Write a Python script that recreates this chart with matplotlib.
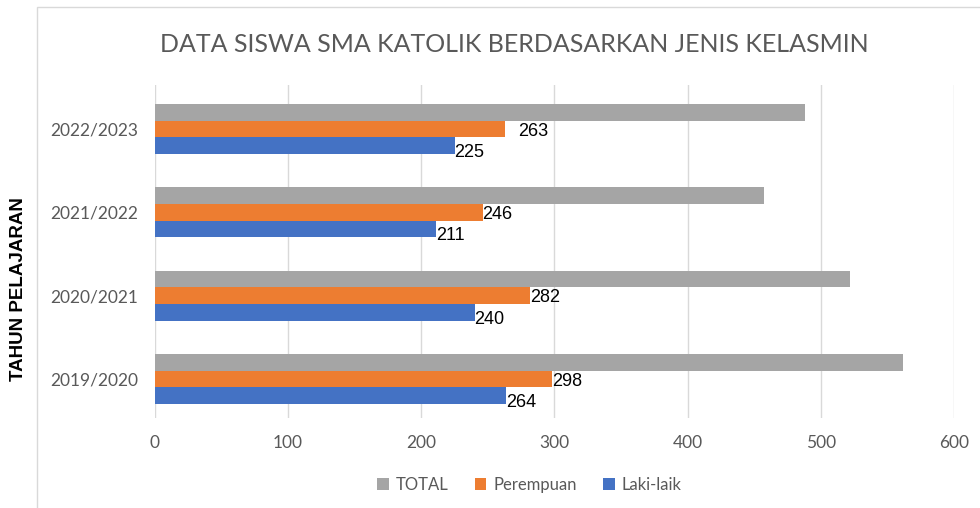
import numpy as np
import matplotlib
matplotlib.use("Agg")
import matplotlib.pyplot as plt
from matplotlib.patches import Rectangle

# data
years = ["2019/2020", "2020/2021", "2021/2022", "2022/2023"]
laki = [264, 240, 211, 225]
perempuan = [298, 282, 246, 263]
total = [562, 522, 457, 488]

c_total = "#A5A5A5"
c_perem = "#ED7D31"
c_laki = "#4472C4"
txt = "#595959"

fig = plt.figure(figsize=(9.8, 5.08), dpi=100)
ax = fig.add_axes([0.158, 0.177, 0.8155, 0.656])

y = np.arange(len(years))
h = 0.2
b_laki = ax.barh(y - h, laki, height=h, color=c_laki, label="Laki-laik")
b_perem = ax.barh(y, perempuan, height=h, color=c_perem, label="Perempuan")
b_total = ax.barh(y + h, total, height=h, color=c_total, label="TOTAL")

lab_font = ["Liberation Sans Narrow", "Liberation Sans", "DejaVu Sans"]
for i, v in enumerate(perempuan):
    dx = 9 if v == 263 else 0
    ax.annotate(str(v), (v, y[i]), xytext=(dx, -1.5), textcoords="offset points",
                va="center", ha="left", fontsize=13, family=lab_font, color="black")
for i, v in enumerate(laki):
    ax.annotate(str(v), (v, y[i] - h), xytext=(0, -5), textcoords="offset points",
                va="center", ha="left", fontsize=13, family=lab_font, color="black")

ax.set_xlim(0, 600)
ax.set_ylim(-0.47, 3.53)
ax.set_xticks(range(0, 601, 100))
ax.set_yticks(y)
ax.set_yticklabels(years)
ax.grid(axis="x", color="#d9d9d9", linewidth=1)
ax.set_axisbelow(True)
for s in ax.spines.values():
    s.set_visible(False)
ax.tick_params(length=0, labelsize=12.5, labelcolor=txt, pad=12)
for t in ax.get_xticklabels() + ax.get_yticklabels():
    t.set_family(["Lato", "DejaVu Sans"])

fig.text(0.525, 0.912, "DATA SISWA SMA KATOLIK BERDASARKAN JENIS KELASMIN",
         ha="center", va="center", fontsize=18, color=txt, family=["Lato", "DejaVu Sans"])
fig.text(0.019, 0.43, "TAHUN PELAJARAN", rotation=90, ha="center", va="center",
         fontsize=13.5, fontweight="bold", family=["Liberation Sans", "DejaVu Sans"])

# light frame of the chart area
fig.patches.append(Rectangle((37 / 980, -0.1), 1.0, 1 - 7 / 508 + 0.1,
                             transform=fig.transFigure, fill=False,
                             edgecolor="#d9d9d9", linewidth=1))

handles = [b_total, b_perem, b_laki]
leg = fig.legend(handles, [hd.get_label() for hd in handles], loc="center",
                 bbox_to_anchor=(0.54, 0.045), ncol=3, frameon=False,
                 handlelength=0.7, handleheight=0.7, handletextpad=0.4,
                 columnspacing=1.6, prop={"family": ["Lato", "DejaVu Sans"], "size": 12})
for t in leg.get_texts():
    t.set_color(txt)

fig.savefig("out.png", dpi=100)
